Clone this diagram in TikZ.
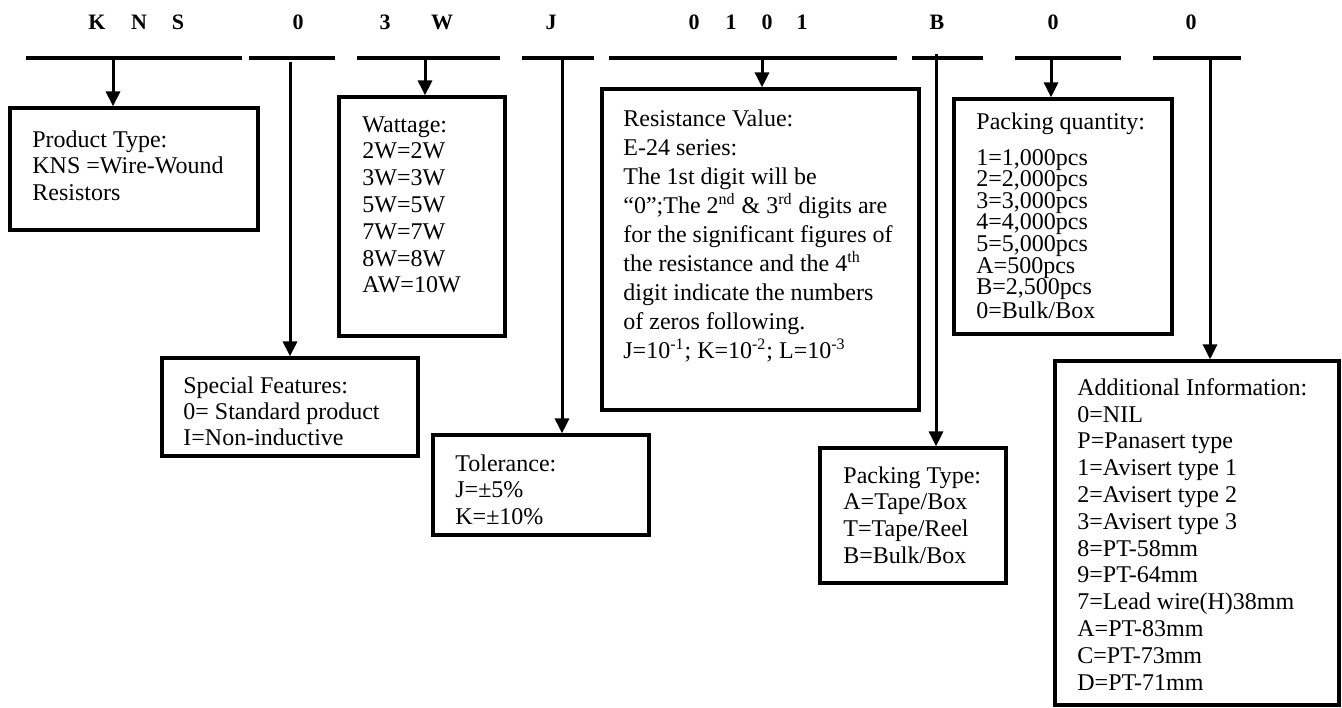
\documentclass[tikz,border=0pt]{standalone}
\usepackage{fontspec}
\setmainfont{Liberation Serif}
\usetikzlibrary{arrows.meta}
\tikzset{
  codechar/.style={font=\fontsize{11}{13}\selectfont\bfseries},
  codebar/.style={line width=2pt},
  partbox/.style={draw,line width=1.6pt,inner sep=0pt},
  parttext/.style={anchor=north west,inner sep=0pt,align=left,font=\fontsize{12}{13.4}\selectfont},
  feed/.style={line width=1.5pt,-{Triangle[length=7.5pt,width=7pt]}}
}
\begin{document}
\begin{tikzpicture}[x=0.5pt,y=-0.5pt]
\useasboundingbox (0,0) rectangle (1342,707);
% part number
\foreach \x/\c [count=\i] in {97/K,139/N,178/S,298/0,385/3,442/W,551/J,694/0,731/1,767/0,802/1,937/B,1053/0,1191/0}
  \node[codechar] (c\i) at (\x,22) {\c};
\foreach \a/\b in {26/242,249/335,357/500,522/594,609/897,912/983,1015/1121,1153/1241}
  \draw[codebar] (\a,58) -- (\b,58);
\coordinate (t1) at (113,58);
\coordinate (t2) at (290,62);
\coordinate (t3) at (425,58);
\coordinate (t4) at (562,58);
\coordinate (t5) at (762,58);
\coordinate (t6) at (936,54);
\coordinate (t7) at (1051,58);
\coordinate (t8) at (1210,58);
% boxes
\node[partbox,minimum width=124pt,minimum height=61pt] (ptype) at (134,169) {};
\node[partbox,minimum width=128pt,minimum height=49pt] (feat) at (290,407) {};
\node[partbox,minimum width=83pt,minimum height=119.5pt] (watt) at (422,216.5) {};
\node[partbox,minimum width=108pt,minimum height=50pt] (tol) at (541,485) {};
\node[partbox,minimum width=158.5pt,minimum height=160.5pt] (resist) at (760.5,249.5) {};
\node[partbox,minimum width=93pt,minimum height=67.5pt] (packtype) at (913,515.5) {};
\node[partbox,minimum width=109pt,minimum height=117.5pt] (packqty) at (1063,216.5) {};
\node[partbox,minimum width=142pt,minimum height=172pt] (addinfo) at (1197,533) {};
% texts
\node[parttext] (ptypetxt) at (32,130) {Product Type:\\KNS =Wire-Wound\\Resistors};
\node[parttext] (watttxt) at (362,116) {Wattage:\\2W=2W\\3W=3W\\5W=5W\\7W=7W\\8W=8W\\AW=10W};
\node[parttext,font=\fontsize{12}{14.5}\selectfont] (resisttxt) at (623,109) {Resistance Value:\\E-24 series:\\The 1st digit will be\\“0”;The 2\textsuperscript{nd} \& 3\textsuperscript{rd} digits are\\for the significant figures of\\the resistance and the 4\textsuperscript{th}\\digit indicate the numbers\\of zeros following.\\J=10\textsuperscript{-1}; K=10\textsuperscript{-2}; L=10\textsuperscript{-3}};
\node[parttext,font=\fontsize{12}{10.8}\selectfont] (packqtytxt) at (976,112) {Packing quantity:\\[7.2pt]1=1,000pcs\\2=2,000pcs\\3=3,000pcs\\4=4,000pcs\\5=5,000pcs\\A=500pcs\\B=2,500pcs\\0=Bulk/Box};
\node[parttext,font=\fontsize{12}{13}\selectfont] (feattxt) at (183,376) {Special Features:\\0= Standard product\\I=Non-inductive};
\node[parttext] (toltxt) at (455,454) {Tolerance:\\J=±5\%\\K=±10\%};
\node[parttext] (packtypetxt) at (843,466) {Packing Type:\\A=Tape/Box\\T=Tape/Reel\\B=Bulk/Box};
\node[parttext] (addinfotxt) at (1077,378) {Additional Information:\\0=NIL\\P=Panasert type\\1=Avisert type 1\\2=Avisert type 2\\3=Avisert type 3\\8=PT-58mm\\9=PT-64mm\\7=Lead wire(H)38mm\\A=PT-83mm\\C=PT-73mm\\D=PT-71mm};
% links
\draw[feed] (t1) -- (t1 |- ptype.north);
\draw[feed] (t2) -- (t2 |- feat.north);
\draw[feed] (t3) -- (t3 |- watt.north);
\draw[feed] (t4) -- (t4 |- tol.north);
\draw[feed] (t5) -- (t5 |- resist.north);
\draw[feed] (t6) -- (t6 |- packtype.north);
\draw[feed] (t7) -- (t7 |- packqty.north);
\draw[feed] (t8) -- (t8 |- addinfo.north);
\end{tikzpicture}
\end{document}
